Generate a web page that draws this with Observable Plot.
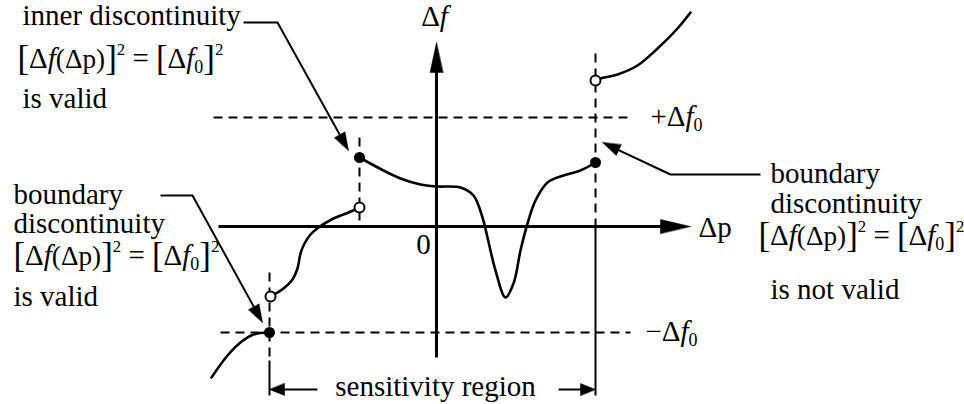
<!DOCTYPE html>
<html>
<head>
<meta charset="utf-8">
<script src="https://cdn.jsdelivr.net/npm/d3@7"></script>
<script src="https://cdn.jsdelivr.net/npm/@observablehq/plot@0.6"></script>
<style>
  body { margin: 0; background: #fff; }
  svg text { white-space: pre; font-family: "Liberation Serif", "Times New Roman", serif; }
</style>
</head>
<body>
<div id="chart"></div>
<script>
// Δp–Δf plane: one unit is one pixel, origin at the crossing of the axes, Δf upward.

// levels and discontinuity positions
const fPlus = 109;      // +Δf0
const fMinus = -106;    // −Δf0
const pLeft = -167;     // left boundary discontinuity
const pInner = -77;     // inner discontinuity
const pRight = 159;     // right boundary discontinuity

// branches of Δf(Δp), each between two discontinuities
const branchOuterLeft = [[-225,-151],[-209,-129],[-196,-116],[-183,-108],[-167,-106]];
const branchLeft = [[-166,-70],[-153,-62],[-144,-53],[-139,-42],[-136,-27],[-132,-17],[-126,-8],[-118,-1],[-103,8],[-88,14],[-77,19]];
const branchMiddle = [[-77,69],[-53,56],[-36,48],[-16,42],[1,40],[24,39],[37,31],[46,9],[51,-11],[59,-44],[69,-71],[77,-57],[84,-24],[91,3],[99,26],[111,44],[127,51],[144,56],[159,64]];
const branchOuterRight = [[159,146],[164,148],[181,152],[201,161],[221,178],[241,198],[254,214]];

// end points of the branches: closed (value attained) and open
const closedEnds = [[-77,69],[159,64],[-167,-106]];
const openEnds = [[-77,19],[159,146],[-166,-70]];

// axes
const pAxis = [[-218,0],[254,0]];
const fAxis = [[0,-131],[0,184]];

// guide lines
const levelLines = [[[-223,fPlus],[194,fPlus]], [[-216,fMinus],[194,fMinus]]];
const dashedVerticals = [[[pInner,89],[pInner,6]], [[pLeft,-46],[pLeft,-134]], [[pRight,173],[pRight,0]]];
const solidVerticals = [[[pLeft,-134],[pLeft,-169]], [[pRight,0],[pRight,-169]]];

// leader lines of the notes
const calloutInner = [[-193,204],[-159,204],[-88,76]];
const calloutLeft = [[-276,31],[-244,31],[-174,-96]];
const calloutRight = [[324,52],[234,52],[166,84]];

// sensitivity region arrows
const regionY = -163;
const regionArrows = [[[-119,regionY],[pLeft,regionY]], [[122,regionY],[pRight,regionY]]];

// text; {f} italic, _x subscript, ^x superscript, <..> smaller, [ ] tall brackets
const formula = "[Δ{f}<(Δp)>]^2 = [Δ{f}_0]^2";
const notesInner = ["inner discontinuity", "is valid"];
const notesInnerY = [202, 119];
const notesLeft = ["boundary", "discontinuity", "is valid"];
const notesLeftY = [23, -6, -79];
const notesRight = ["boundary", "discontinuity", "is not valid"];
const notesRightY = [44, 14, -72];
const formulaRows = [
  {text: formula, x: -419, y: 159},
  {text: formula, x: -423, y: -38},
  {text: formula, x: 322, y: -18}
];
const startLabels = [
  {text: "Δp", x: 262, y: -10},
  {text: "+Δ{f}_0", x: 214, y: 101},
  {text: "−Δ{f}_0", x: 209, y: -114}
];
const middleLabels = [
  {text: "Δ{f}", x: -2, y: 201},
  {text: "0", x: -13, y: -27},
  {text: "sensitivity region", x: -1, y: -169}
];

const FS = 29;
const SERIF = "Liberation Serif, Times New Roman, serif";

const px = d => d[0], py = d => d[1];

function arrowParts(pts, len, half) {
  const [x0, y0] = pts[pts.length - 2], [x1, y1] = pts[pts.length - 1];
  const d = Math.hypot(x1 - x0, y1 - y0), ux = (x1 - x0) / d, uy = (y1 - y0) / d;
  const bx = x1 - ux * len, by = y1 - uy * len;
  return {
    shaft: [...pts.slice(0, -1), [x1 - ux * len * 0.6, y1 - uy * len * 0.6]],
    head: [[x1, y1], [bx - uy * half, by + ux * half], [bx + uy * half, by - ux * half]]
  };
}

const arrows = [
  {...arrowParts(pAxis, 30, 7), w: 3},
  {...arrowParts(fAxis, 30, 6.5), w: 3},
  {...arrowParts(calloutInner, 18, 6), w: 2},
  {...arrowParts(calloutLeft, 18, 6), w: 2},
  {...arrowParts(calloutRight, 18, 6), w: 2},
  ...regionArrows.map(a => ({...arrowParts(a, 15, 6), w: 2}))
];
const heads = arrows.flatMap((a, i) => a.head.map(([x, y]) => ({x, y, id: i})));

const textRows = (lines, ys, x) => lines.map((text, i) => ({text, x, y: ys[i]}));
const startTexts = [
  ...textRows(notesInner, notesInnerY, -414),
  ...textRows(notesLeft, notesLeftY, -423),
  ...textRows(notesRight, notesRightY, 334),
  ...startLabels
];

const lineOf = (pts, o = {}) => Plot.line(pts, {x: px, y: py, stroke: "black", strokeWidth: 2.5, strokeLinecap: "butt", ...o});
const textOf = (data, anchor) => Plot.text(data, {x: "x", y: "y", text: "text", textAnchor: anchor, lineAnchor: "bottom", fontSize: FS, fontFamily: SERIF, fill: "black"});

const chart = Plot.plot({
  width: 964,
  height: 404,
  margin: 0,
  style: {background: "#fff", fontFamily: SERIF, overflow: "visible"},
  x: {domain: [-436, 528], axis: null},
  y: {domain: [-178, 226], axis: null},
  marks: [
    ...levelLines.map(s => lineOf(s, {strokeWidth: 2, strokeDasharray: "9,6"})),
    ...dashedVerticals.map(s => lineOf(s, {strokeWidth: 2, strokeDasharray: "9,6"})),
    ...solidVerticals.map(s => lineOf(s, {strokeWidth: 2})),
    ...arrows.map(a => lineOf(a.shaft, {strokeWidth: a.w})),
    Plot.line(heads, {x: "x", y: "y", z: "id", fill: "black", stroke: "black", strokeWidth: 0.5, curve: "linear-closed"}),
    ...[branchOuterLeft, branchLeft, branchMiddle, branchOuterRight].map(b => lineOf(b, {curve: "catmull-rom", strokeWidth: 2.6, strokeLinecap: "round"})),
    Plot.dot(closedEnds, {x: px, y: py, r: 5.5, fill: "black"}),
    Plot.dot(openEnds, {x: px, y: py, r: 5, fill: "white", stroke: "black", strokeWidth: 2}),
    textOf(startTexts, "start"),
    textOf(formulaRows, "start"),
    textOf(middleLabels, "middle")
  ]
});

// turn the markup in text labels into styled tspans
function richText(el, fs) {
  const src = el.textContent;
  if (!/[{}_^<>\[\]]/.test(src)) return;
  el.textContent = "";
  const re = /\{([^}]*)\}|<([^>]*)>|_(.)|\^(.)|([\[\]])|([^{<_^\[\]]+)/g;
  let m, cur = 0;
  while ((m = re.exec(src))) {
    const t = document.createElementNS("http://www.w3.org/2000/svg", "tspan");
    let shift = 0, size = null, italic = false, str;
    if (m[1] != null) { str = m[1]; italic = true; }
    else if (m[2] != null) { str = m[2]; size = 0.94 * fs; }
    else if (m[3] != null) { str = m[3]; size = 0.62 * fs; shift = 0.2 * fs; }
    else if (m[4] != null) { str = m[4]; size = 0.58 * fs; shift = -0.42 * fs; }
    else if (m[5] != null) { str = m[5]; size = 1.2 * fs; shift = 0.08 * fs; }
    else str = m[6];
    if (size) t.setAttribute("font-size", size);
    if (italic) t.setAttribute("font-style", "italic");
    if (shift !== cur) { t.setAttribute("dy", shift - cur); cur = shift; }
    t.textContent = str;
    el.appendChild(t);
  }
}
chart.querySelectorAll("text").forEach(el => richText(el, FS));

document.getElementById("chart").appendChild(chart);
</script>
</body>
</html>
